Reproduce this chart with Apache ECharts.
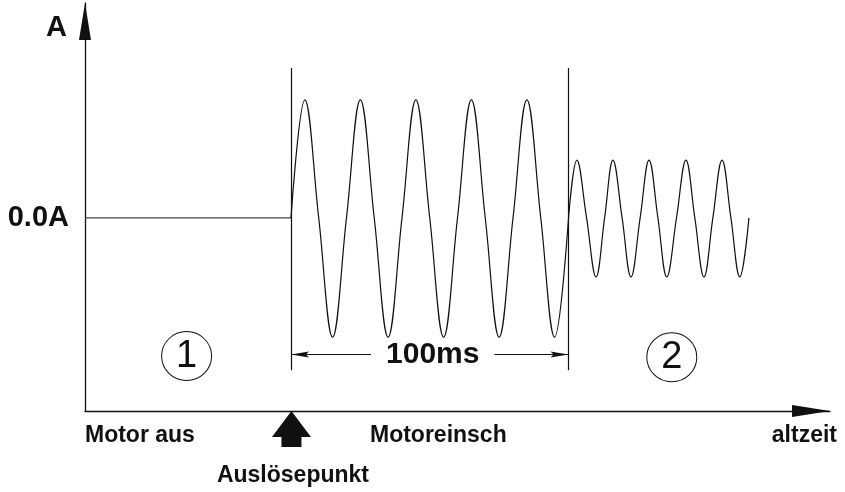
<!DOCTYPE html>
<html lang="de">
<head>
<meta charset="UTF-8">
<title>Motoranlauf</title>
<script src="https://cdn.jsdelivr.net/npm/echarts@6/dist/echarts.min.js"></script>
<style>
    html, body { margin: 0; padding: 0; background: #fff; }
    #main { width: 845px; height: 492px; }
</style>
</head>
<body>
<div id="main"></div>
<script>
// Zeit in ms (0 = Auslösepunkt), Strom in willkürlichen Einheiten
var tMin = -74.2, tMax = 194.2;
var aMin = -16.35, aMax = 18.2;

// Motor aus: Nulllinie
var offT = [-74.2, 0];
var offA = [0, 0];

// Einschaltstrom (erste 100 ms)
var startT = [0, 5, 10, 15, 20, 25, 30, 35, 40, 45, 50, 55, 60, 65, 70, 75, 80, 85, 90, 95, 100];
var startA = [0, 10, 0, -10.1, 0, 10, 0, -10.1, 0, 10, 0, -10.1, 0, 10, 0, -10.1, 0, 10, 0, -10.1, 0];

// Betriebsstrom danach
var runT = [100, 103.0, 106.5, 109.9, 113.0, 116.0, 119.3, 122.5, 125.8, 129.0, 132.2, 135.4, 138.9, 142.3, 145.5, 148.8, 152.0, 155.3, 158.5, 161.7, 165.0];
var runA = [0, 4.9, 0, -5.0, 0, 4.9, 0, -5.0, 0, 4.9, 0, -5.0, 0, 4.9, 0, -5.0, 0, 4.9, 0, -5.0, 0];

// Begrenzungslinien und Maß
var markT = [0, 100];
var markTop = 12.7, markBottom = -12.9;
var spanA = -11.57;
var spanText = '100ms';

// Kreisnummern
var circleTexts = ['1', '2'];
var circleT = [-37.6, 137.2];
var circleA = [-11.7, -11.8];

// Beschriftung unter der Zeitachse
var bottomTexts = ['Motor aus', 'Motoreinsch', 'altzeit'];
var bottomT = [-74.2, 53.1, 194.2];
var triggerText = 'Auslösepunkt';
var triggerT = 0;

var yName = 'A';
var yZeroLabel = '0.0A';

function pairs(xs, ys) {
    return xs.map(function (x, i) { return [x, ys[i]]; });
}

var font = 'Liberation Sans, Arial, sans-serif';
var ink = '#111';

var myChart = echarts.init(document.getElementById('main'));

var bottomData = bottomTexts.map(function (txt, i) {
    var align = i === 0 ? 'left' : (i === bottomTexts.length - 1 ? 'right' : 'center');
    return {
        value: [bottomT[i], aMin],
        name: txt,
        label: { align: align, offset: [i === bottomTexts.length - 1 ? 7 : 0, 25] }
    };
});
bottomData.push({
    value: [triggerT, aMin],
    name: triggerText,
    label: { align: 'center', offset: [2, 65] }
});

myChart.setOption({
    animation: false,
    backgroundColor: '#fff',
    grid: { left: 85, right: 15, top: 3, bottom: 81, outerBoundsMode: 'none' },
    xAxis: {
        type: 'value',
        min: tMin,
        max: tMax,
        axisLine: {
            onZero: false,
            lineStyle: { color: ink, width: 1.3 },
            symbol: ['none', 'triangle'],
            symbolSize: [12, 38],
            symbolOffset: [0, -19]
        },
        axisTick: { show: false },
        axisLabel: { show: false },
        splitLine: { show: false }
    },
    yAxis: {
        type: 'value',
        min: aMin,
        max: aMax,
        name: yName,
        nameLocation: 'end',
        nameGap: -24.5,
        nameTextStyle: {
            fontFamily: font, fontSize: 29, fontWeight: 'bold', color: ink,
            align: 'right', verticalAlign: 'middle', padding: [0, 18, 0, 0]
        },
        axisLine: {
            onZero: false,
            lineStyle: { color: ink, width: 1.3 },
            symbol: ['none', 'triangle'],
            symbolSize: [12, 37],
            symbolOffset: [0, -18.5]
        },
        axisTick: { show: false },
        axisLabel: {
            customValues: [0],
            formatter: function () { return yZeroLabel; },
            fontFamily: font, fontSize: 29, fontWeight: 'bold', color: ink, margin: 16
        },
        splitLine: { show: false }
    },
    series: [
        {
            type: 'line',
            data: pairs(offT, offA),
            showSymbol: false,
            lineStyle: { color: '#444', width: 1.2 },
            silent: true
        },
        {
            type: 'line',
            data: pairs(startT, startA),
            smooth: 0.4,
            showSymbol: false,
            lineStyle: { color: ink, width: 1.2 },
            silent: true,
            markLine: {
                silent: true,
                symbol: 'none',
                label: { show: false },
                lineStyle: { color: ink, width: 1.2, type: 'solid' },
                data: markT.map(function (t) {
                    return [{ coord: [t, markTop] }, { coord: [t, markBottom] }];
                })
            }
        },
        {
            type: 'line',
            data: pairs(runT, runA),
            smooth: 0.4,
            showSymbol: false,
            lineStyle: { color: ink, width: 1.2 },
            silent: true,
            markLine: {
                silent: true,
                symbol: 'none',
                lineStyle: { color: ink, width: 1.2, type: 'solid' },
                label: {
                    show: true,
                    position: 'middle',
                    formatter: spanText,
                    fontFamily: font,
                    fontSize: 30,
                    fontWeight: 'bold',
                    color: ink,
                    backgroundColor: '#fff',
                    padding: [0, 15],
                    distance: 0,
                    verticalAlign: 'middle',
                    offset: [3, 0]
                },
                data: [[{ coord: [markT[0], spanA] }, { coord: [markT[1], spanA] }]]
            }
        },
        {
            // Pfeilspitzen des Maßes
            type: 'scatter',
            data: [
                { value: [markT[0], spanA], symbol: 'path://M0,3 L18,0 L15,3 L18,6 Z', symbolOffset: [9, 0] },
                { value: [markT[1], spanA], symbol: 'path://M18,3 L0,0 L3,3 L0,6 Z', symbolOffset: [-9, 0] }
            ],
            symbolSize: [18, 6],
            itemStyle: { color: ink, opacity: 1 },
            silent: true,
            z: 5
        },
        {
            type: 'scatter',
            data: pairs(circleT, circleA).map(function (p, i) {
                return { value: p, name: circleTexts[i] };
            }),
            symbol: 'circle',
            symbolSize: [50, 49],
            itemStyle: { color: 'rgba(0,0,0,0)', borderColor: ink, borderWidth: 1, opacity: 1 },
            label: {
                show: true,
                position: 'inside',
                formatter: '{b}',
                fontFamily: font,
                fontSize: 38,
                color: ink
            },
            silent: true
        },
        {
            type: 'scatter',
            data: [[triggerT, aMin]],
            symbol: 'path://M19.5,0 L39,26 L29.5,26 L29.5,36 L9.5,36 L9.5,26 L0,26 Z',
            symbolSize: [39, 36],
            symbolOffset: [0.5, 18],
            itemStyle: { color: ink, opacity: 1 },
            silent: true
        },
        {
            type: 'scatter',
            data: bottomData,
            symbolSize: 0,
            itemStyle: { color: '#fff', opacity: 1 },
            label: {
                show: true,
                position: 'inside',
                formatter: '{b}',
                fontFamily: font,
                fontSize: 23,
                fontWeight: 'bold',
                color: ink,
                verticalAlign: 'middle'
            },
            silent: true
        }
    ]
});

window.onresize = function () {
    myChart.resize();
};
</script>
</body>
</html>
